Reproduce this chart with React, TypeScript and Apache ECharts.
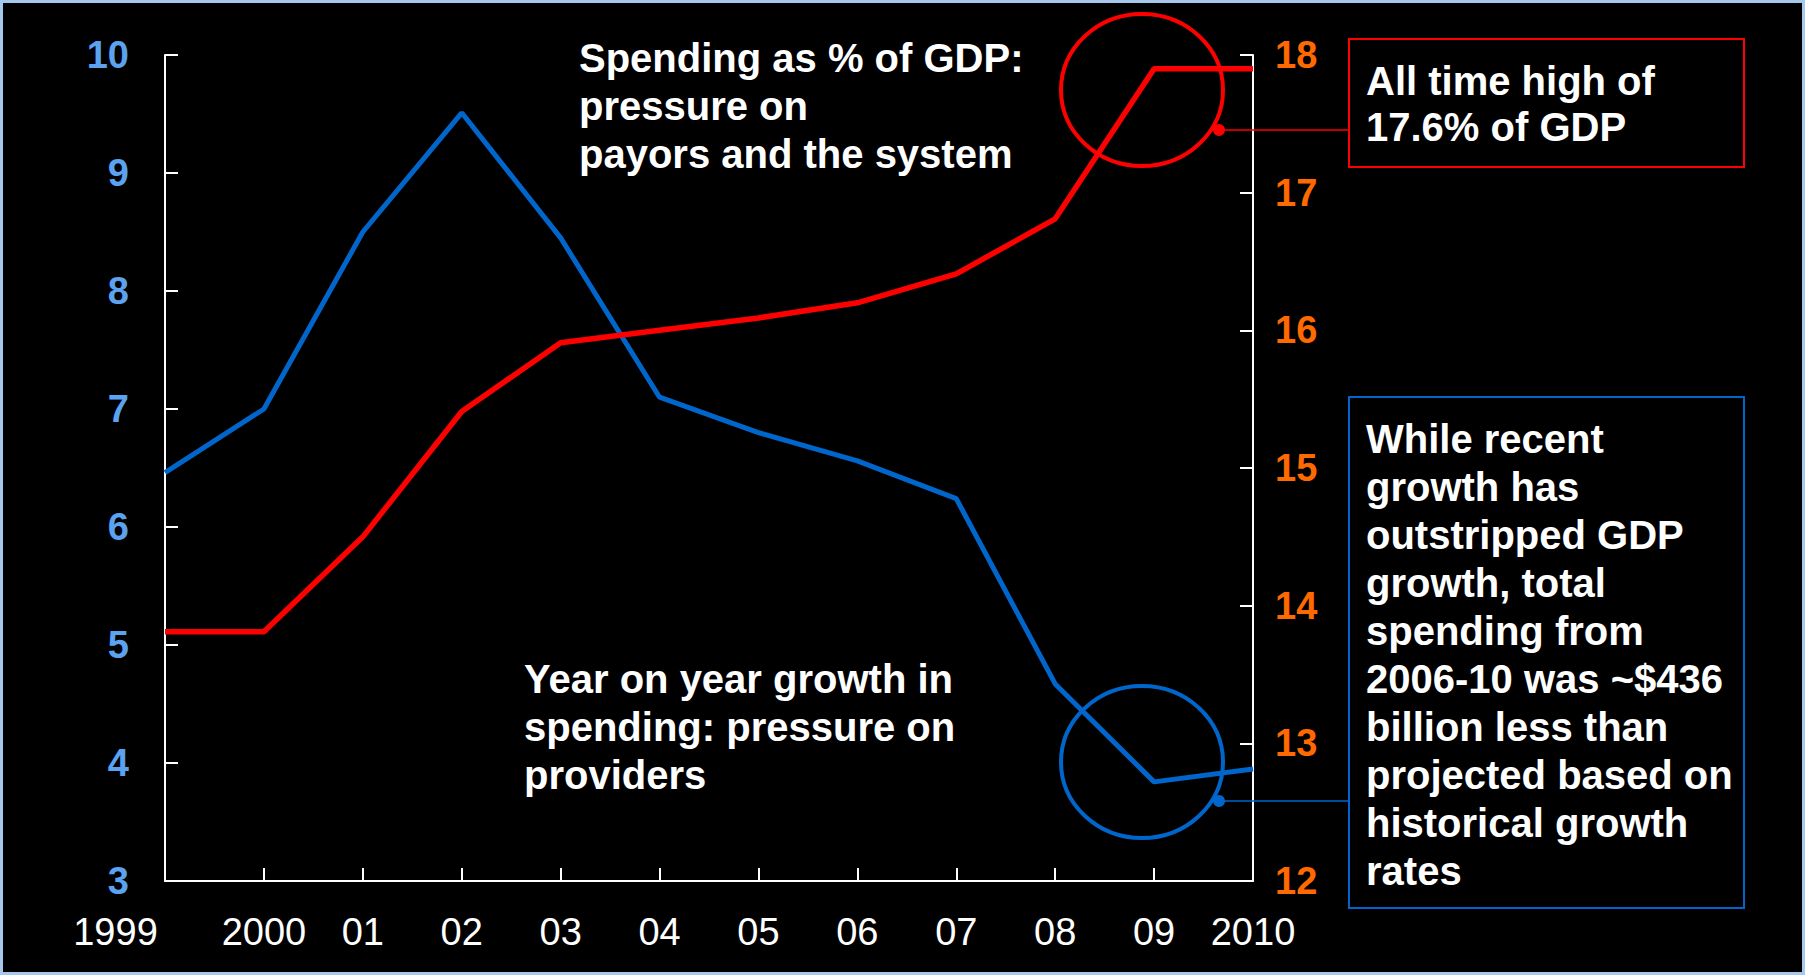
import React, { useEffect, useRef } from "react";
import * as echarts from "echarts";

const years = ["1999", "2000", "01", "02", "03", "04", "05", "06", "07", "08", "09", "2010"];
const growthValues = [6.46, 7.0, 8.5, 9.51, 8.45, 7.1, 6.8, 6.56, 6.24, 4.67, 3.84, 3.95];
const gdpShareValues = [13.81, 13.81, 14.5, 15.41, 15.91, 16.0, 16.09, 16.2, 16.41, 16.81, 17.9, 17.9];
const leftTicks = { min: 3, max: 10, interval: 1 };
const rightTicks = { min: 12, max: 18, interval: 1 };

const titleGdp = "Spending as % of GDP:\npressure on\npayors and the system";
const titleGrowth = "Year on year growth in\nspending: pressure on\nproviders";
const noteHigh = "All time high of\n17.6% of GDP";
const noteGrowth =
  "While recent\ngrowth has\noutstripped GDP\ngrowth, total\nspending from\n2006-10 was ~$436\nbillion less than\nprojected based on\nhistorical growth\nrates";

const FONT = "'Liberation Sans', Arial, sans-serif";
const BLUE = "#0066cc";
const RED = "#ff0000";

export default function App() {
  const ref = useRef<HTMLDivElement>(null);
  useEffect(() => {
    if (!ref.current) return;
    const chart = echarts.init(ref.current, null, { renderer: "svg" });
    const textStyle = (t: string, x: number, y: number, lh: number) => ({
      type: "text",
      left: x,
      top: y,
      z: 10,
      style: {
        text: t,
        fill: "#ffffff",
        font: `bold 40px ${FONT}`,
        lineHeight: lh,
      },
    });
    chart.setOption({
      animation: false,
      backgroundColor: "#000000",
      textStyle: { fontFamily: FONT },
      grid: { left: 165, top: 55, width: 1088, height: 826, containLabel: false },
      xAxis: {
        type: "category",
        data: years,
        boundaryGap: false,
        axisLine: { lineStyle: { color: "#ffffff", width: 2 } },
        axisTick: {
          inside: true,
          length: 13,
          interval: 0,
          alignWithLabel: true,
          lineStyle: { color: "#ffffff", width: 2 },
        },
        axisLabel: {
          color: "#ffffff",
          fontSize: 38,
          lineHeight: 38,
          margin: 32,
          interval: 0,
          hideOverlap: false,
          showMinLabel: true,
          showMaxLabel: true,
          fontFamily: FONT,
          formatter: (v: string, i: number) => (i === 0 ? `{l|${v}}` : v),
          rich: {
            l: { color: "#ffffff", fontSize: 38, fontFamily: FONT, padding: [0, 99, 0, 0] },
          },
        },
        splitLine: { show: false },
      },
      yAxis: [
        {
          type: "value",
          ...leftTicks,
          position: "left",
          axisLine: { show: true, lineStyle: { color: "#ffffff", width: 2 } },
          axisTick: { show: true, inside: true, length: 13, lineStyle: { color: "#ffffff", width: 2 } },
          axisLabel: { color: "#5ba2f0", fontSize: 38, fontWeight: "bold", margin: 36, fontFamily: FONT },
          splitLine: { show: false },
        },
        {
          type: "value",
          ...rightTicks,
          position: "right",
          axisLine: { show: true, lineStyle: { color: "#ffffff", width: 2 } },
          axisTick: { show: true, inside: true, length: 13, lineStyle: { color: "#ffffff", width: 2 } },
          axisLabel: { color: "#ff6a00", fontSize: 38, fontWeight: "bold", margin: 22, fontFamily: FONT },
          splitLine: { show: false },
        },
      ],
      series: [
        {
          type: "line",
          name: "Year on year growth",
          yAxisIndex: 0,
          data: growthValues,
          showSymbol: false,
          lineStyle: { color: BLUE, width: 5 },
          z: 3,
        },
        {
          type: "line",
          name: "Spending as % of GDP",
          yAxisIndex: 1,
          data: gdpShareValues,
          showSymbol: false,
          lineStyle: { color: RED, width: 5.5 },
          z: 4,
        },
      ],
      graphic: [
        {
          type: "rect",
          shape: { x: 1.5, y: 1.5, width: 1802, height: 972 },
          style: { fill: "none", stroke: "#a6c8ec", lineWidth: 3 },
          z: 20,
        },
        textStyle(titleGdp, 579, 34, 48),
        textStyle(titleGrowth, 524, 655, 48),
        {
          type: "ellipse",
          shape: { cx: 1142, cy: 90, rx: 81, ry: 76 },
          style: { fill: "none", stroke: RED, lineWidth: 4 },
          z: 10,
        },
        {
          type: "ellipse",
          shape: { cx: 1142, cy: 762, rx: 81, ry: 76 },
          style: { fill: "none", stroke: BLUE, lineWidth: 4 },
          z: 10,
        },
        {
          type: "line",
          shape: { x1: 1219, y1: 130, x2: 1349, y2: 130 },
          style: { stroke: RED, lineWidth: 1.5 },
          z: 10,
        },
        { type: "circle", shape: { cx: 1219, cy: 130, r: 6 }, style: { fill: RED }, z: 11 },
        {
          type: "line",
          shape: { x1: 1219, y1: 801, x2: 1349, y2: 801 },
          style: { stroke: BLUE, lineWidth: 1.5 },
          z: 10,
        },
        { type: "circle", shape: { cx: 1219, cy: 801, r: 6 }, style: { fill: BLUE }, z: 11 },
        {
          type: "rect",
          shape: { x: 1349, y: 39, width: 395, height: 128 },
          style: { fill: "none", stroke: RED, lineWidth: 2 },
          z: 10,
        },
        {
          type: "rect",
          shape: { x: 1349, y: 397, width: 395, height: 511 },
          style: { fill: "none", stroke: BLUE, lineWidth: 2 },
          z: 10,
        },
        textStyle(noteHigh, 1366, 58, 46),
        textStyle(noteGrowth, 1366, 415, 48),
      ],
    });
    return () => chart.dispose();
  }, []);
  return (
    <div
      ref={ref}
      style={{ position: "fixed", left: 0, top: 0, width: 1805, height: 975 }}
    />
  );
}
